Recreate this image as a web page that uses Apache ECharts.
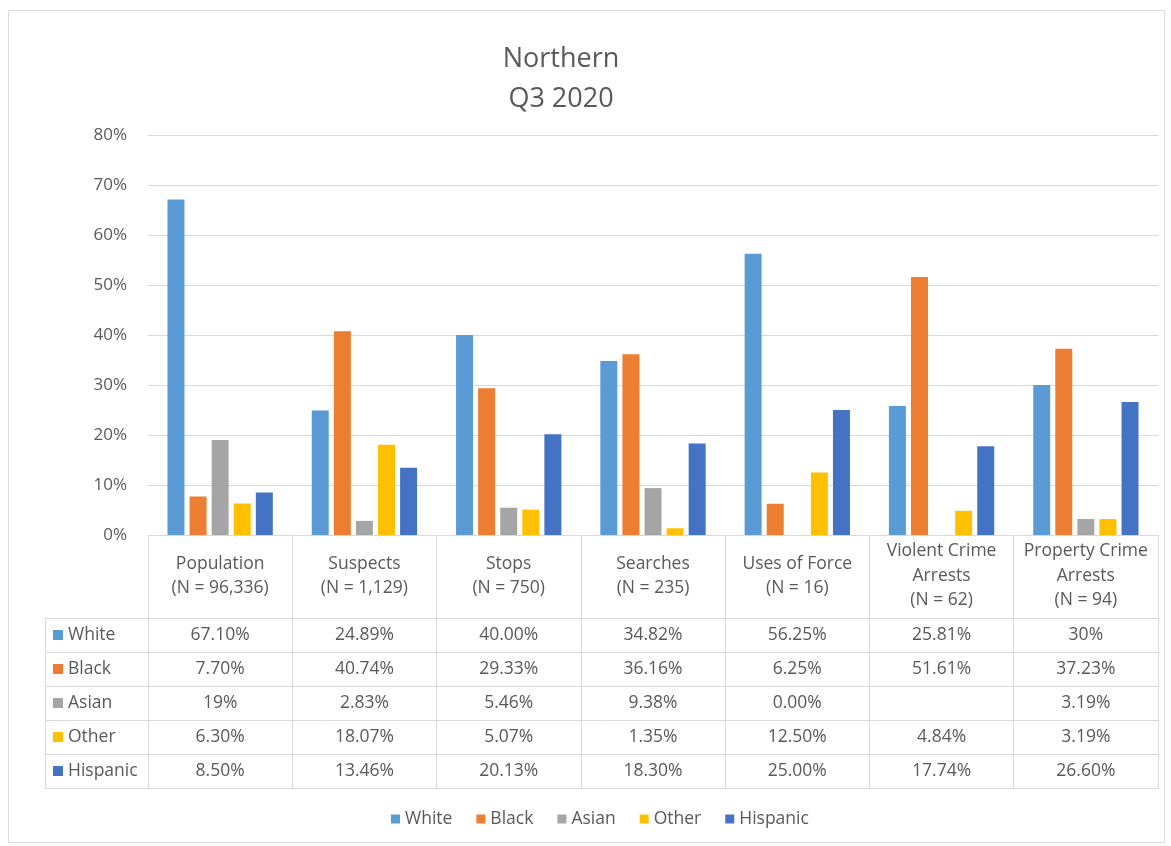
<!DOCTYPE html>
<html><head><meta charset="utf-8">
<script src="https://cdn.jsdelivr.net/npm/echarts@6/dist/echarts.min.js"></script>
<style>html,body{margin:0;padding:0;background:#fff;} #main{width:1171px;height:846px;}</style>
</head><body><div id="main"></div>
<script>
// ---- data ----
const categories = [
  'Population\n(N = 96,336)',
  'Suspects\n(N = 1,129)',
  'Stops\n(N = 750)',
  'Searches\n(N = 235)',
  'Uses of Force\n(N = 16)',
  'Violent Crime\nArrests\n(N = 62)',
  'Property Crime\nArrests\n(N = 94)'
];
const seriesNames = ['White', 'Black', 'Asian', 'Other', 'Hispanic'];
const white    = ['67.10%', '24.89%', '40.00%', '34.82%', '56.25%', '25.81%', '30%'];
const black    = ['7.70%',  '40.74%', '29.33%', '36.16%', '6.25%',  '51.61%', '37.23%'];
const asian    = ['19%',    '2.83%',  '5.46%',  '9.38%',  '0.00%',  '',       '3.19%'];
const other    = ['6.30%',  '18.07%', '5.07%',  '1.35%',  '12.50%', '4.84%',  '3.19%'];
const hispanic = ['8.50%',  '13.46%', '20.13%', '18.30%', '25.00%', '17.74%', '26.60%'];
const yMin = 0, yMax = 80, yStep = 10;
const titleLines = ['Northern', 'Q3 2020'];

// ---- styling ----
const colors = ['#5B9BD5', '#ED7D31', '#A5A5A5', '#FFC000', '#4472C4'];
const FONT = '"Open Sans", "Noto Sans", sans-serif';
const FS = 17.5;
const TXT = '#595959';
const LINE = '#d9d9d9';
const rows = [white, black, asian, other, hispanic];
const toVal = s => (s === '' ? null : parseFloat(s));

const chart = echarts.init(document.getElementById('main'), null, {renderer: 'canvas'});
const option = {
  animation: false,
  backgroundColor: '#ffffff',
  textStyle: {fontFamily: FONT},
  title: {
    text: titleLines.join('\n'),
    left: 556, top: 34, textAlign: 'center',
    textStyle: {fontFamily: FONT, fontSize: 27, fontWeight: 'normal', color: TXT, lineHeight: 40}
  },
  legend: {
    data: seriesNames, bottom: 13, left: 386,
    icon: 'rect', itemWidth: 9, itemHeight: 9, itemGap: 24,
    textStyle: {fontFamily: FONT, fontSize: FS, color: TXT}
  },
  grid: {left: 148, right: 13, top: 135, bottom: 311, containLabel: false},
  xAxis: {
    type: 'category', data: categories,
    axisLine: {show: true, lineStyle: {color: LINE, width: 1}},
    axisTick: {show: true, interval: 0, length: 253, lineStyle: {color: LINE, width: 1}},
    axisLabel: {interval: 0, fontFamily: FONT, fontSize: FS, color: TXT, lineHeight: 24.5, verticalAlign: 'middle', margin: 41}
  },
  yAxis: {
    type: 'value', min: yMin, max: yMax, interval: yStep,
    axisLine: {show: false}, axisTick: {show: false},
    axisLabel: {formatter: '{value}%', fontFamily: FONT, fontSize: 17, color: TXT, margin: 21},
    splitLine: {lineStyle: {color: LINE, width: 1}}
  },
  series: seriesNames.map((n, i) => ({
    name: n, type: 'bar',
    data: rows[i].map(toVal),
    itemStyle: {color: colors[i]},
    barGap: '30%', barCategoryGap: '27%'
  }))
};
chart.setOption(option);

// ---- data table drawn from axis coordinates ----
const c0 = chart.convertToPixel({xAxisIndex: 0}, 0);
const c1 = chart.convertToPixel({xAxisIndex: 0}, 1);
const band = c1 - c0;
const plotLeft = c0 - band / 2;
const plotRight = plotLeft + band * categories.length;
const y0 = chart.convertToPixel({yAxisIndex: 0}, yMin);
const headerH = 83, rowH = 34, tableLeft = 45;
const tTop = y0 + headerH;
const g = [];
g.push({type: 'rect', shape: {x: 8.5, y: 10.5, width: 1156, height: 832}, style: {fill: 'none', stroke: LINE, lineWidth: 1}, silent: true});
for (let r = 0; r <= rows.length; r++) {
  const y = Math.round(tTop + r * rowH) + 0.5;
  g.push({type: 'line', shape: {x1: tableLeft, y1: y, x2: plotRight, y2: y}, style: {stroke: LINE, lineWidth: 1}, silent: true});
}
g.push({type: 'line', shape: {x1: tableLeft + 0.5, y1: tTop, x2: tableLeft + 0.5, y2: tTop + rows.length * rowH}, style: {stroke: LINE, lineWidth: 1}, silent: true});
rows.forEach((row, r) => {
  const yc = tTop + r * rowH + rowH / 2;
  g.push({type: 'rect', shape: {x: 53, y: yc - 5, width: 10, height: 10}, style: {fill: colors[r]}, silent: true});
  g.push({type: 'text', x: 68, y: yc, style: {text: seriesNames[r], fill: TXT, font: FS + 'px ' + FONT, textAlign: 'left', textVerticalAlign: 'middle', verticalAlign: 'middle'}, silent: true});
  row.forEach((s, i) => {
    const xc = chart.convertToPixel({xAxisIndex: 0}, i);
    g.push({type: 'text', x: xc, y: yc, style: {text: s, fill: TXT, font: FS + 'px ' + FONT, textAlign: 'center', align: 'center', verticalAlign: 'middle', textVerticalAlign: 'middle'}, silent: true});
  });
});
chart.setOption({graphic: {elements: g}});
</script>
</body></html>
